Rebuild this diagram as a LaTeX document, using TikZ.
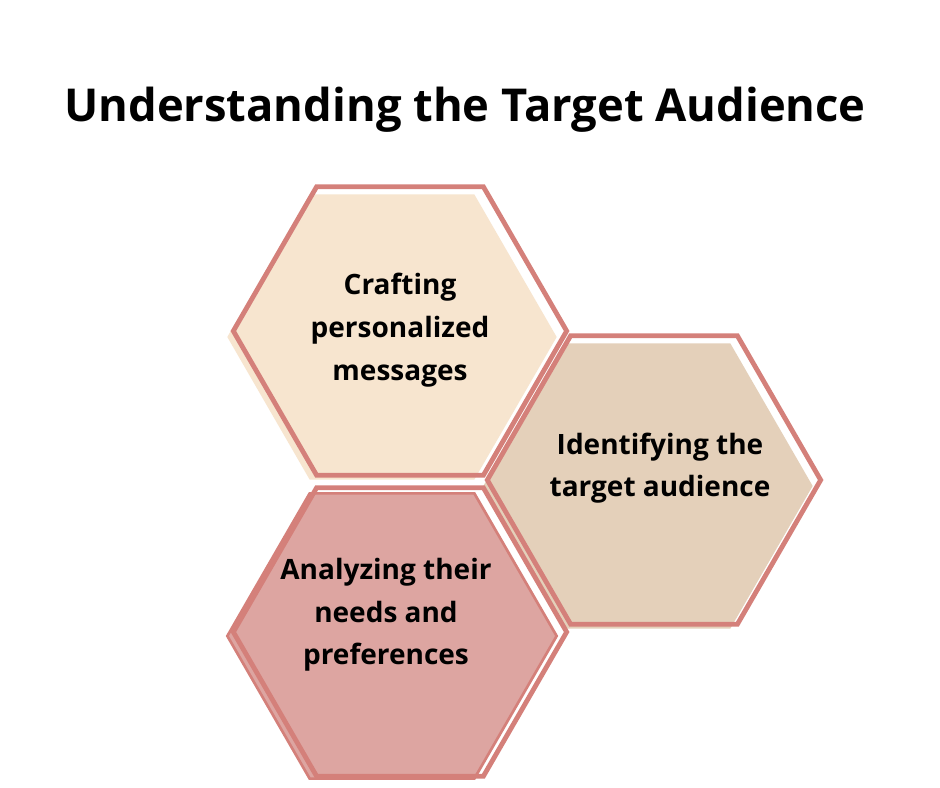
\documentclass[tikz,border=0pt]{standalone}
\usepackage{fontspec}
\setmainfont{Open Sans}
\usetikzlibrary{shapes.geometric}
\definecolor{rim}{HTML}{D4807A}
\definecolor{cream}{HTML}{F7E5CF}
\definecolor{sand}{HTML}{E4D0BA}
\definecolor{rose}{HTML}{DDA5A1}
\tikzset{
  hexfill/.style={regular polygon,regular polygon sides=6,inner sep=0pt,minimum size=247pt},
  hexrim/.style={regular polygon,regular polygon sides=6,inner sep=0pt,minimum size=250pt,draw=rim,line width=3.6pt},
  label/.style={font=\bfseries\fontsize{21}{32}\selectfont,align=center}
}
\begin{document}
\begin{tikzpicture}[x=0.75pt,y=-0.75pt]
            \useasboundingbox (0,0) rectangle (940,788);
            \fill[white] (0,0) rectangle (940,788);
            \node[font=\bfseries\fontsize{34}{40}\selectfont] (title) at (465,110) {Understanding the Target Audience};
            % filled hexagons
            \node[hexfill,fill=cream] (F1) at (392,337) {};
            \node[hexfill,fill=sand] (F2) at (648,486) {};
            \node[hexfill,fill=rose,draw=rim,line width=2pt] (F3) at (392,636) {};
            % outlines
            \node[hexrim] (H1) at (400,331) {};
            \node[hexrim] (H2) at (654,480) {};
            \node[hexrim] (H3) at (400,632) {};
            % texts
            \node[label] (T1) at (400,330) {Crafting\\personalized\\messages};
            \node[label] (T2) at (660,468) {Identifying the\\target audience};
            \node[label] (T3) at (386,615) {Analyzing their\\needs and\\preferences};
        \end{tikzpicture}
\end{document}
